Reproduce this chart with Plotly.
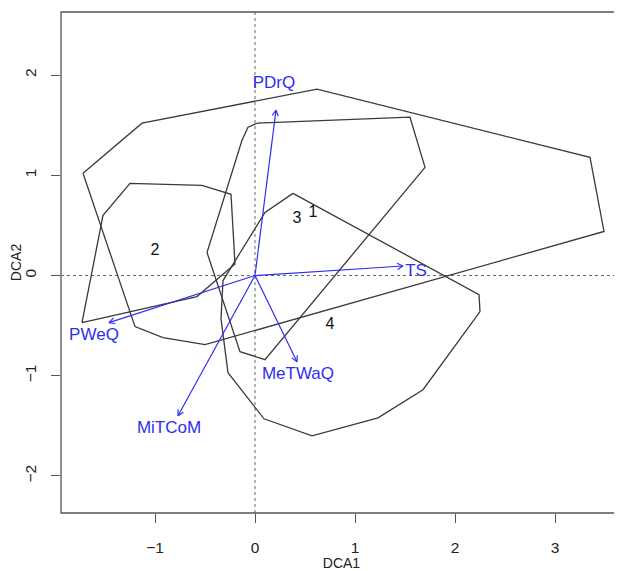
import numpy as np
import plotly.graph_objects as go

# ---- hull vertices (DCA1, DCA2) ----
hullA_x = [-1.72, -1.13, 0.62, 3.35, 3.49, -0.50, -0.92, -1.20]
hullA_y = [1.02, 1.52, 1.86, 1.18, 0.44, -0.69, -0.62, -0.51]

hull2_x = [-1.73, -1.52, -1.25, -0.53, -0.24, -0.20, -0.58]
hull2_y = [-0.47, 0.60, 0.92, 0.90, 0.81, 0.115, -0.21]

hullB_x = [0.02, -0.07, -0.13, -0.48, -0.15, 0.10, 1.70, 1.55]
hullB_y = [1.52, 1.48, 1.35, 0.23, -0.76, -0.84, 1.08, 1.58]

hullC_x = [0.38, 2.24, 2.25, 1.68, 1.23, 0.57, 0.09, -0.27, -0.34, -0.32, 0.10]
hullC_y = [0.82, -0.19, -0.36, -1.14, -1.42, -1.60, -1.43, -0.97, -0.43, -0.05, 0.63]

# ---- group labels ----
grp_labels = ["1", "2", "3", "4"]
grp_x = [0.58, -1.00, 0.42, 0.75]
grp_y = [0.62, 0.24, 0.56, -0.49]

# ---- environmental vectors ----
vec_names = ["PDrQ", "TS", "PWeQ", "MeTWaQ", "MiTCoM"]
vec_x = [0.21, 1.48, -1.46, 0.42, -0.77]
vec_y = [1.65, 0.095, -0.47, -0.86, -1.40]
lab_x = [0.19, 1.61, -1.61, 0.43, -0.86]
lab_y = [1.91, 0.04, -0.60, -0.99, -1.53]

xticks = [-1, 0, 1, 2, 3]
yticks = [-2, -1, 0, 1, 2]

BLUE = "#2e2ef2"
HULL = "#3a3a3a"
AX = "#555555"
FONT = "Liberation Sans, Arial, sans-serif"

fig = go.Figure()

for hx, hy in [(hullA_x, hullA_y), (hull2_x, hull2_y), (hullB_x, hullB_y), (hullC_x, hullC_y)]:
    fig.add_trace(go.Scatter(x=hx + hx[:1], y=hy + hy[:1], mode="lines",
                             line=dict(color=HULL, width=1.3), hoverinfo="skip",
                             showlegend=False))

# arrows
head = 0.065
ang = np.deg2rad(28)
for vx, vy in zip(vec_x, vec_y):
    fig.add_trace(go.Scatter(x=[0, vx], y=[0, vy], mode="lines",
                             line=dict(color=BLUE, width=1.2), showlegend=False,
                             hoverinfo="skip"))
    th = np.arctan2(vy, vx)
    wx = [vx - head * np.cos(th - ang), vx, vx - head * np.cos(th + ang)]
    wy = [vy - head * np.sin(th - ang), vy, vy - head * np.sin(th + ang)]
    fig.add_trace(go.Scatter(x=wx, y=wy, mode="lines",
                             line=dict(color=BLUE, width=1.2), showlegend=False,
                             hoverinfo="skip"))

fig.add_trace(go.Scatter(x=lab_x, y=lab_y, mode="text", text=vec_names,
                         textfont=dict(color=BLUE, size=17, family=FONT),
                         showlegend=False, hoverinfo="skip"))
fig.add_trace(go.Scatter(x=grp_x, y=grp_y, mode="text", text=grp_labels,
                         textfont=dict(color="#111111", size=16, family=FONT),
                         showlegend=False, hoverinfo="skip"))

# dotted zero lines
fig.add_shape(type="line", xref="paper", yref="y", x0=0, x1=1, y0=0, y1=0,
              line=dict(color="#666666", width=1, dash="dot"), layer="below")
fig.add_shape(type="line", xref="x", yref="paper", x0=0, x1=0, y0=0, y1=1,
              line=dict(color="#666666", width=1, dash="dot"), layer="below")
# box (right edge falls outside the image)
fig.add_shape(type="rect", xref="paper", yref="paper", x0=0, x1=1.02, y0=0, y1=1,
              line=dict(color=AX, width=1.3))

# the page body adds an 8px offset, so the figure is 8px smaller
fig.update_layout(
    width=614, height=563,
    margin=dict(l=53, r=0, t=4, b=58, autoexpand=False),
    paper_bgcolor="white", plot_bgcolor="white",
    font=dict(family=FONT, size=14, color="#222222"),
    showlegend=False,
    xaxis=dict(range=[-1.94, 3.67], tickvals=xticks, ticks="outside", ticklen=9,
               tickcolor=AX, tickwidth=1.2, showgrid=False, zeroline=False,
               showline=False, tickfont=dict(size=15.5), ticklabelstandoff=11,
               automargin=False,
               title=dict(text="DCA1", font=dict(size=14), standoff=0)),
    yaxis=dict(range=[-2.37, 2.63], tickvals=yticks, ticks="outside", ticklen=9,
               tickcolor=AX, tickwidth=1.2, showgrid=False, zeroline=False,
               showline=False, tickfont=dict(size=15.5), tickangle=-90,
               ticklabelstandoff=9, automargin=False,
               title=dict(text="DCA2", font=dict(size=14), standoff=2)),
)

fig.write_html("out.html")
